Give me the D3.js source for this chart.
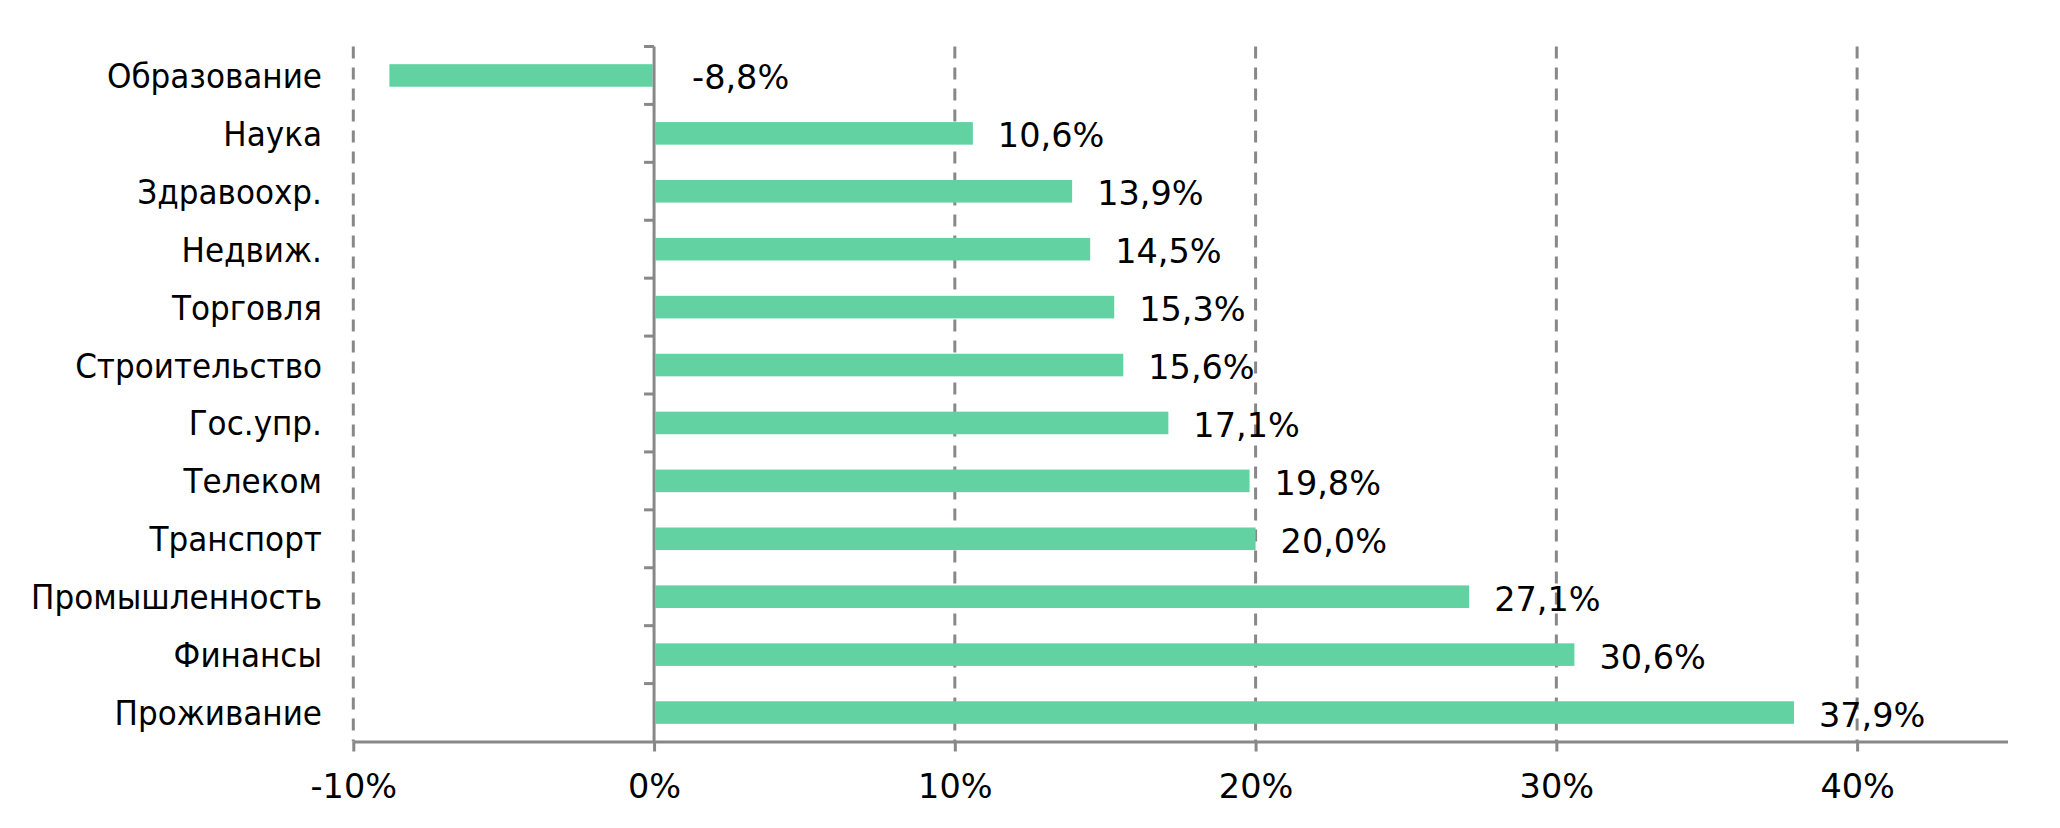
<!DOCTYPE html>
<html>
<head>
<meta charset="utf-8">
<script src="https://cdn.jsdelivr.net/npm/d3@7"></script>
<style>
  html, body { margin: 0; padding: 0; background: #fff; }
  svg { display: block; }
</style>
</head>
<body>
<svg id="chart" width="2060" height="828"></svg>
<script>
const categories = ["Образование", "Наука", "Здравоохр.", "Недвиж.", "Торговля", "Строительство", "Гос.упр.", "Телеком", "Транспорт", "Промышленность", "Финансы", "Проживание"];
const values = [-8.8, 10.6, 13.9, 14.5, 15.3, 15.6, 17.1, 19.8, 20.0, 27.1, 30.6, 37.9];
const tickValues = [-10, 0, 10, 20, 30, 40];
const tickLabels = ["-10%", "0%", "10%", "20%", "30%", "40%"];
const valueLabels = ["-8,8%", "10,6%", "13,9%", "14,5%", "15,3%", "15,6%", "17,1%", "19,8%", "20,0%", "27,1%", "30,6%", "37,9%"];

(function () {
const svg = d3.select("#chart");
const plotTop = 46.5, plotBottom = 741.5;
const gray = "#888888";
const barColor = "#63D2A3";
const font = "'DejaVu Sans', Verdana, sans-serif";
const catSquash = 0.915;

const x = d3.scaleLinear().domain([-10, 45]).range([353.3, 2007.5]);
const y = d3.scaleBand().domain(categories).range([plotTop, plotBottom]).paddingInner(0.61).paddingOuter(0.305);
const half = (y.step() - y.bandwidth()) / 2;

// gridlines (behind bars)
svg.append("g").selectAll("line")
  .data(tickValues.filter(d => d !== 0))
  .join("line")
  .attr("x1", d => x(d)).attr("x2", d => x(d))
  .attr("y1", plotTop).attr("y2", plotBottom)
  .attr("stroke", gray).attr("stroke-width", 3)
  .attr("stroke-dasharray", "12,9");

// bars
svg.append("g").selectAll("rect")
  .data(categories)
  .join("rect")
  .attr("x", (c, i) => x(Math.min(0, values[i])) + (values[i] >= 0 ? 1.5 : 0))
  .attr("width", (c, i) => Math.abs(x(values[i]) - x(0)) - 1.5)
  .attr("y", c => y(c))
  .attr("height", y.bandwidth())
  .attr("fill", barColor);

// x axis
const xAxis = d3.axisBottom(x)
  .tickValues(tickValues)
  .tickFormat((d, i) => tickLabels[i])
  .tickSize(10)
  .tickSizeOuter(0);
const gx = svg.append("g").attr("transform", `translate(0,${plotBottom})`).call(xAxis);
gx.select(".domain").attr("stroke", gray).attr("stroke-width", 3);
gx.selectAll(".tick line").attr("stroke", gray).attr("stroke-width", 3);
gx.selectAll(".tick text")
  .attr("y", 56).attr("dy", 0)
  .attr("fill", "#000")
  .style("font-family", font).style("font-size", "33.5px");

// y axis line at zero
svg.append("line")
  .attr("x1", x(0)).attr("x2", x(0))
  .attr("y1", plotTop).attr("y2", plotBottom)
  .attr("stroke", gray).attr("stroke-width", 3);

// y ticks at category boundaries
svg.append("g").selectAll("line")
  .data(categories)
  .join("line")
  .attr("x1", x(0) - 10).attr("x2", x(0))
  .attr("y1", c => y(c) - half).attr("y2", c => y(c) - half)
  .attr("stroke", gray).attr("stroke-width", 3);

// category labels
svg.append("g").selectAll("text")
  .data(categories)
  .join("text")
  .attr("transform", c => `translate(322,${y(c) + y.bandwidth() / 2 + 12.5}) scale(${catSquash},1)`)
  .attr("text-anchor", "end")
  .attr("fill", "#000")
  .style("font-family", font).style("font-size", "34px")
  .text(c => c);

// value labels
svg.append("g").selectAll("text")
  .data(categories)
  .join("text")
  .attr("x", (c, i) => x(Math.max(0, values[i])) + (values[i] < 0 ? 38 : 25))
  .attr("y", c => y(c) + y.bandwidth() / 2 + 14)
  .attr("text-anchor", "start")
  .attr("fill", "#000")
  .style("font-family", font).style("font-size", "33.5px")
  .text((c, i) => valueLabels[i]);
})();
</script>
</body>
</html>
